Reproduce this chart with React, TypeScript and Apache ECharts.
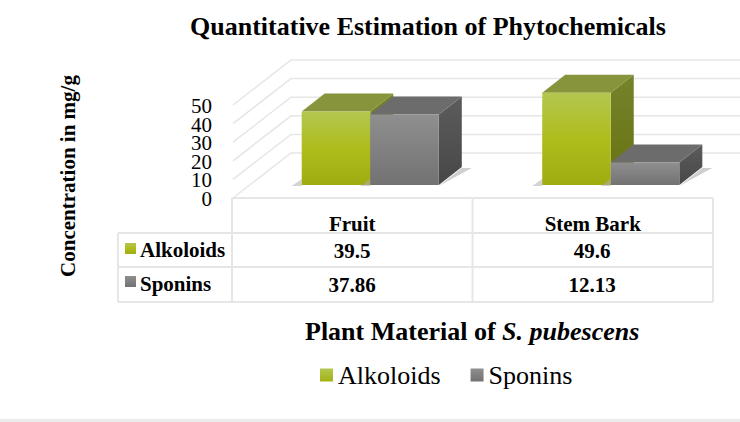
import React, { useEffect, useRef } from "react";
import * as echarts from "echarts";

const categories = ["Fruit", "Stem Bark"];
const alkoloids = [39.5, 49.6];
const sponins = [37.86, 12.13];
const alkoloidLabels = ["39.5", "49.6"];
const sponinLabels = ["37.86", "12.13"];
const yTicks = [0, 10, 20, 30, 40, 50];

const FONT = "Liberation Serif";
const LINE = "#e6e6e6";
const DX = 23;
const DY = -18;
const FLOOR_X = 59;
const FLOOR_Y = -45;
const BAR_SHIFT_X = 18;
const BASE_LIFT = 13;

const vGrad = (stops: [number, string][]) => ({
  type: "linear", x: 0, y: 0, x2: 0, y2: 1,
  colorStops: stops.map(([offset, color]) => ({ offset, color })),
});

const alkFront = vGrad([[0, "#b4c650"], [0.5, "#aebd1c"], [1, "#9fac10"]]);
const spoFront = vGrad([[0, "#8f8f8f"], [1, "#727272"]]);

function barRenderer(slot: number, front: any, top: string, side: any) {
  return (params: any, api: any) => {
    const cat = api.value(0);
    const val = api.value(1);
    const band = api.size([1, 0])[0];
    const w = band * 0.285;
    const center = api.coord([cat, 0])[0] + BAR_SHIFT_X;
    const x0 = center - w + slot * w;
    const x1 = x0 + w;
    const yBase = api.coord([cat, 0])[1] - BASE_LIFT;
    const yTop = yBase - (api.coord([cat, 0])[1] - api.coord([cat, val])[1]);
    const poly = (points: number[][], fill: any) => ({
      type: "polygon", shape: { points }, style: { fill },
    });
    return {
      type: "group",
      children: [
        poly(
          [[x1, yBase + 1], [x1 + DX, yBase + DY + 1], [x1 + DX + 10, yBase + DY + 1]],
          "rgba(160,160,160,0.5)"
        ),
        poly(
          [[x0 - 10, yBase + 1], [x0, yBase - 6], [x0, yBase + 1]],
          "rgba(175,175,175,0.55)"
        ),
        poly([[x1, yTop], [x1 + DX, yTop + DY], [x1 + DX, yBase + DY], [x1, yBase]], side),
        poly([[x0, yTop], [x0 + DX, yTop + DY], [x1 + DX, yTop + DY], [x1, yTop]], top),
        { type: "rect", shape: { x: x0, y: yTop, width: w, height: yBase - yTop }, style: { fill: front } },
      ],
    };
  };
}

function wallRenderer(params: any, api: any) {
  const v = api.value(0);
  const y = api.coord([0, v])[1];
  const left = params.coordSys.x;
  const right = left + 600;
  return {
    type: "group",
    children: [
      {
        type: "polyline",
        shape: {
          points: [[left + 1, y], [left + FLOOR_X, y + FLOOR_Y], [right, y + FLOOR_Y]],
        },
        style: { stroke: LINE, fill: "none", lineWidth: 1.5 },
      },
      {
        type: "text",
        x: left - 20,
        y: y + 1,
        style: {
          text: String(v), fill: "#000", font: `21px "${FONT}"`,
          textAlign: "right", textVerticalAlign: "middle",
        },
      },
    ],
  };
}

const cellText = (text: string, x: number, y: number, align = "center") => ({
  type: "text",
  x, y,
  style: {
    text, fill: "#000", font: `bold 21px "${FONT}"`,
    textAlign: align, textVerticalAlign: "middle",
  },
});

const tableLine = (x1: number, y1: number, x2: number, y2: number) => ({
  type: "line",
  shape: { x1, y1, x2, y2 },
  style: { stroke: LINE, lineWidth: 2 },
});

export default function App() {
  const ref = useRef<HTMLDivElement>(null);
  useEffect(() => {
    const chart = echarts.init(ref.current!, null, { renderer: "svg", width: 740, height: 422 });
    const colX = [352, 592];
    chart.setOption({
      animation: false,
      backgroundColor: "#fff",
      title: {
        text: "Quantitative Estimation of Phytochemicals",
        left: 423, top: 8, textAlign: "center",
        textStyle: { fontFamily: FONT, fontSize: 26, fontWeight: "bold", color: "#000" },
      },
      legend: {
        left: 315, top: 357, itemWidth: 13, itemHeight: 13, itemGap: 30,
        data: [{ name: "Alkoloids", icon: "rect" }, { name: "Sponins", icon: "rect" }],
        selectedMode: false,
        textStyle: { fontFamily: FONT, fontSize: 26, color: "#000" },
      },
      grid: { left: 232, top: 105, width: 481, height: 93 },
      xAxis: {
        type: "category", data: categories,
        axisLine: { show: false }, axisTick: { show: false },
        axisLabel: { fontFamily: FONT, fontSize: 21, fontWeight: "bold", color: "#000", margin: 15 },
      },
      yAxis: {
        type: "value", min: 0, max: 50, interval: 10,
        axisLine: { show: false }, axisTick: { show: false }, splitLine: { show: false },
        axisLabel: { show: false },
      },
      series: [
        {
          type: "custom", name: "walls", z: 1, silent: true, clip: false,
          data: yTicks.map((v) => [v]),
          encode: { y: 0 },
          renderItem: wallRenderer,
        },
        {
          type: "custom", name: "Alkoloids", z: 2, clip: false,
          itemStyle: { color: vGrad([[0, "#b4c650"], [1, "#a4b214"]]) },
          data: categories.map((_, i) => [i, alkoloids[i]]),
          encode: { x: 0, y: 1 },
          renderItem: barRenderer(
            0, alkFront, "#87943c",
            vGrad([[0, "#76832c"], [1, "#687210"]])
          ),
        },
        {
          type: "custom", name: "Sponins", z: 3, clip: false,
          itemStyle: { color: spoFront },
          data: categories.map((_, i) => [i, sponins[i]]),
          encode: { x: 0, y: 1 },
          renderItem: barRenderer(
            1, spoFront, "#6c6c6c",
            vGrad([[0, "#5c5c5c"], [1, "#474747"]])
          ),
        },
      ],
      graphic: [
        tableLine(232, 198, 713, 198),
        tableLine(118, 233, 713, 233),
        tableLine(118, 267, 713, 267),
        tableLine(118, 302, 713, 302),
        tableLine(118, 233, 118, 302),
        tableLine(232, 198, 232, 302),
        tableLine(472.5, 198, 472.5, 302),
        tableLine(713, 198, 713, 302),
        { type: "rect", shape: { x: 125, y: 243, width: 11, height: 11 }, style: { fill: alkFront } },
        { type: "rect", shape: { x: 125, y: 276, width: 11, height: 11 }, style: { fill: spoFront } },
        cellText("Alkoloids", 140, 250, "left"),
        cellText("Sponins", 140, 284, "left"),
        ...alkoloidLabels.map((t, i) => cellText(t, colX[i], 251)),
        ...sponinLabels.map((t, i) => cellText(t, colX[i], 285)),
        {
          type: "text", x: 67.5, y: 176, rotation: Math.PI / 2,
          style: {
            text: "Concentration in mg/g", fill: "#000",
            font: `bold 21px "${FONT}"`, textAlign: "center", textVerticalAlign: "middle",
          },
        },
        {
          type: "text", x: 305, y: 331,
          style: {
            text: "{b|Plant Material of }{i|S. pubescens}",
            textVerticalAlign: "middle", textAlign: "left",
            rich: {
              b: { font: `bold 26px "${FONT}"`, fill: "#000" },
              i: { font: `italic bold 26px "${FONT}"`, fill: "#000" },
            },
          },
        },
        { type: "rect", shape: { x: 0, y: 419, width: 740, height: 3 }, style: { fill: "#ececec" } },
      ],
    });
    return () => chart.dispose();
  }, []);
  return <div ref={ref} style={{ position: "fixed", left: 0, top: 0, width: 740, height: 422 }} />;
}
